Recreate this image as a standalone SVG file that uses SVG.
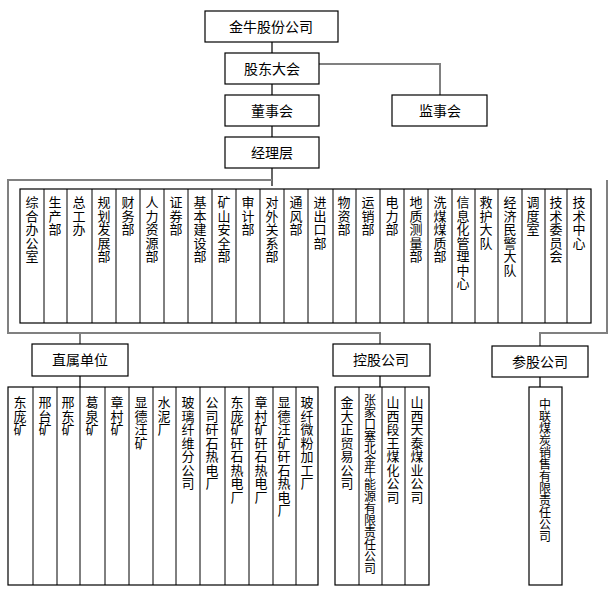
<svg xmlns="http://www.w3.org/2000/svg" width="614" height="599" viewBox="0 0 614 599">
<style>
.b{fill:#fff;stroke:#000;stroke-width:1.2}
.t{font-family:"Noto Sans CJK SC","Liberation Sans",sans-serif;font-size:14px;fill:#000;text-anchor:middle}
.v{font-family:"Noto Sans CJK SC","Liberation Sans",sans-serif;font-size:13px;fill:#000;writing-mode:vertical-rl;text-orientation:upright;letter-spacing:0.5px}
.s{font-size:12px;letter-spacing:0}
.g{fill:none;stroke:#808080;stroke-width:2}
.k{fill:none;stroke:#000;stroke-width:1.2}
.c{stroke:#000;stroke-width:1}
</style>
<rect width="614" height="599" fill="#fff"/>
<g id="connectors">
<path class="k" d="M272 42V53M272 84V95M272 126V137M272 168V186"/>
<path class="g" d="M319 64H440V95"/>
<path class="g" d="M272 180H8V333H380V344M80 333V344M607 180V333H540V346"/>
<path class="k" d="M80 376V387M380 376V387M540 377V387"/>
</g>
<g id="n-top"><rect class="b" x="205" y="11" width="133" height="31"/><text class="t" x="271" y="32">金牛股份公司</text></g>
<g id="n-gd"><rect class="b" x="225" y="53" width="94" height="31"/><text class="t" x="272" y="74">股东大会</text></g>
<g id="n-ds"><rect class="b" x="225" y="95" width="94" height="31"/><text class="t" x="272" y="116">董事会</text></g>
<g id="n-js"><rect class="b" x="392" y="95" width="95" height="31"/><text class="t" x="440" y="116">监事会</text></g>
<g id="n-jl"><rect class="b" x="225" y="137" width="94" height="31"/><text class="t" x="272" y="158">经理层</text></g>
<g id="depts">
<rect class="b" x="20" y="189" width="571" height="134"/>
<path class="c" d="M44 189V323M67 189V323M92 189V323M116 189V323M140 189V323M164 189V323M188 189V323M212 189V323M236 189V323M260 189V323M284 189V323M308 189V323M333 189V323M356 189V323M380 189V323M404 189V323M428 189V323M452 189V323M475 189V323M498 189V323M522 189V323M545 189V323M567 189V323"/>
<text class="v" x="32" y="196">综合办公室</text>
<text class="v" x="55" y="196">生产部</text>
<text class="v" x="79" y="196">总工办</text>
<text class="v" x="104" y="196">规划发展部</text>
<text class="v" x="128" y="196">财务部</text>
<text class="v" x="152" y="196">人力资源部</text>
<text class="v" x="176" y="196">证券部</text>
<text class="v" x="200" y="196">基本建设部</text>
<text class="v" x="224" y="196">矿山安全部</text>
<text class="v" x="248" y="196">审计部</text>
<text class="v" x="272" y="196">对外关系部</text>
<text class="v" x="296" y="196">通风部</text>
<text class="v" x="320" y="196">进出口部</text>
<text class="v" x="344" y="196">物资部</text>
<text class="v" x="368" y="196">运销部</text>
<text class="v" x="392" y="196">电力部</text>
<text class="v" x="416" y="196">地质测量部</text>
<text class="v" x="440" y="196">洗煤煤质部</text>
<text class="v" x="463" y="196">信息化管理中心</text>
<text class="v" x="486" y="196">救护大队</text>
<text class="v" x="510" y="196">经济民警大队</text>
<text class="v" x="533" y="196">调度室</text>
<text class="v" x="556" y="196">技术委员会</text>
<text class="v" x="579" y="196">技术中心</text>
</g>
<g id="n-zs"><rect class="b" x="32" y="344" width="96" height="32"/><text class="t" x="80" y="365">直属单位</text></g>
<g id="n-kg"><rect class="b" x="333" y="344" width="97" height="32"/><text class="t" x="381" y="365">控股公司</text></g>
<g id="n-cg"><rect class="b" x="492" y="346" width="96" height="31"/><text class="t" x="540" y="367">参股公司</text></g>
<g id="zs-units">
<rect class="b" x="8" y="387" width="310" height="198"/>
<path class="c" d="M33 387V585M57 387V585M80 387V585M105 387V585M129 387V585M153 387V585M176 387V585M200 387V585M225 387V585M249 387V585M273 387V585M296 387V585"/>
<text class="v" x="20" y="396">东庞矿</text>
<text class="v" x="45" y="396">邢台矿</text>
<text class="v" x="68" y="396">邢东矿</text>
<text class="v" x="92" y="396">葛泉矿</text>
<text class="v" x="117" y="396">章村矿</text>
<text class="v" x="141" y="396">显德汪矿</text>
<text class="v" x="164" y="396">水泥厂</text>
<text class="v" x="188" y="396">玻璃纤维分公司</text>
<text class="v" x="212" y="396">公司矸石热电厂</text>
<text class="v" x="237" y="396">东庞矿矸石热电厂</text>
<text class="v" x="261" y="396">章村矿矸石热电厂</text>
<text class="v" x="284" y="396">显德汪矿矸石热电厂</text>
<text class="v" x="307" y="396">玻纤微粉加工厂</text>
</g>
<g id="kg-units">
<rect class="b" x="335" y="387" width="94" height="198"/>
<path class="c" d="M359 387V585M382 387V585M405 387V585"/>
<text class="v" x="347" y="396">金大正贸易公司</text>
<text class="v s" x="370" y="394">张家口塞北金牛能源有限责任公司</text>
<text class="v" x="393" y="396">山西段王煤化公司</text>
<text class="v" x="417" y="396">山西天泰煤业公司</text>
</g>
<g id="cg-units">
<rect class="b" x="529" y="387" width="33" height="198"/>
<text class="v s" x="545" y="398">中联煤炭销售有限责任公司</text>
</g>
</svg>
